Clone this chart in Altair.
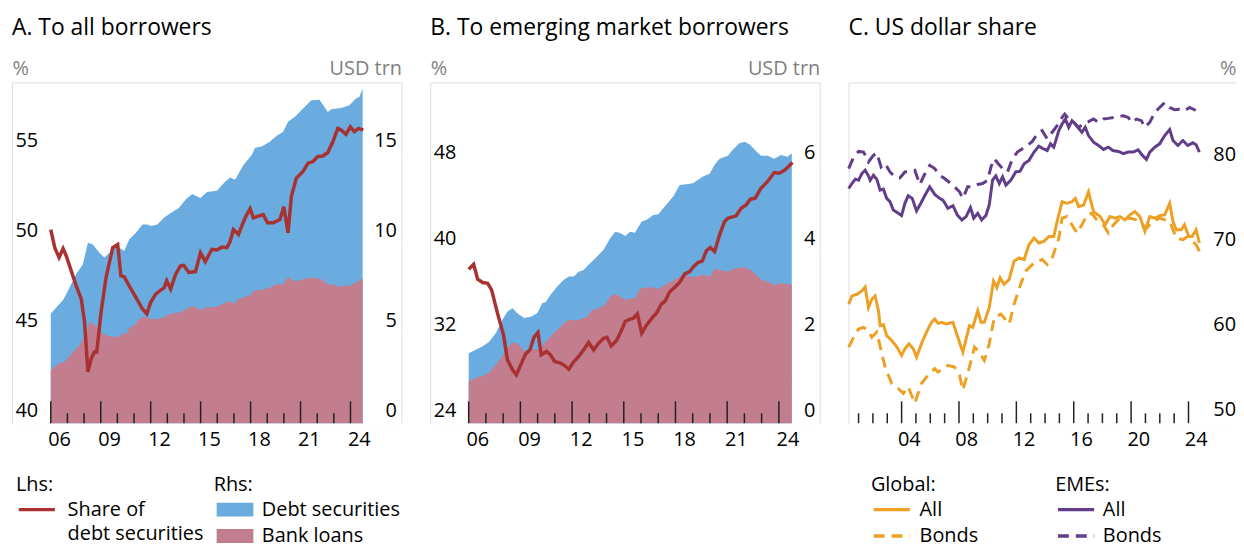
import altair as alt
import pandas as pd

FONT = "Open Sans"
BG = "#d9d9d9"
BLUE = "#6aacdf"
PINK = "#c27e8e"
RED = "#a83232"
ORANGE = "#eea024"
PURPLE = "#613d8a"
GREY = "#7f7f7f"
TICK = "#222222"

H = 343

# ---------------- Panel A: to all borrowers ----------------
a_total_year = [2006.0, 2006.34, 2006.74, 2007.03, 2007.53, 2007.93, 2008.23, 2008.52, 2008.92, 2009.22,
                2009.52, 2009.82, 2010.12, 2010.41, 2010.71, 2011.11, 2011.51, 2011.81, 2012.0, 2012.4,
                2012.8, 2013.2, 2013.69, 2014.09, 2014.49, 2014.99, 2015.38, 2015.98, 2016.48, 2016.78,
                2017.07, 2017.57, 2018.07, 2018.27, 2018.66, 2019.16, 2019.56, 2019.96, 2020.25, 2020.65,
                2021.05, 2021.65, 2022.14, 2022.64, 2022.84, 2023.44, 2023.93, 2024.33, 2024.53, 2024.73]
a_total_val = [6.08, 6.45, 6.85, 7.37, 8.29, 8.84, 10.04, 9.94, 9.48, 9.21,
               9.48, 9.85, 9.76, 9.58, 10.22, 10.59, 11.05, 11.05, 10.96, 11.05,
               11.42, 11.69, 11.97, 12.43, 12.74, 12.52, 12.85, 12.93, 13.44, 13.66,
               13.54, 14.36, 14.92, 15.32, 15.38, 15.65, 15.99, 16.21, 16.76, 17.03,
               17.40, 17.96, 17.99, 17.31, 17.46, 17.53, 17.68, 18.05, 18.14, 18.60]

a_loans_year = [2006.0, 2006.44, 2006.83, 2007.33, 2007.73, 2008.03, 2008.33, 2008.72, 2009.12, 2009.52,
                2010.02, 2010.31, 2010.51, 2010.71, 2011.01, 2011.31, 2011.61, 2012.0, 2012.4, 2012.8,
                2013.2, 2013.79, 2014.29, 2014.69, 2014.99, 2015.38, 2015.98, 2016.48, 2016.78, 2016.97,
                2017.27, 2017.67, 2017.97, 2018.27, 2018.66, 2019.16, 2019.56, 2019.96, 2020.25, 2020.55,
                2020.85, 2021.15, 2021.75, 2022.24, 2022.64, 2023.04, 2023.24, 2023.63, 2023.99, 2024.33,
                2024.73]
a_loans_val = [2.95, 3.31, 3.41, 3.96, 4.33, 4.83, 5.62, 5.43, 4.97, 4.83,
               4.79, 4.97, 4.94, 5.30, 5.43, 5.80, 5.93, 5.80, 5.80, 5.89,
               6.08, 6.17, 6.45, 6.48, 6.30, 6.45, 6.48, 6.72, 6.78, 6.63,
               6.91, 7.05, 7.13, 7.40, 7.40, 7.55, 7.73, 7.73, 8.14, 7.92,
               7.92, 8.01, 8.10, 8.01, 7.73, 7.70, 7.59, 7.64, 7.64, 7.83,
               8.05]

a_share_year = [2006.0, 2006.24, 2006.5, 2006.74, 2006.93, 2007.23, 2007.53, 2007.83, 2008.03, 2008.23,
                2008.43, 2008.62, 2008.76, 2009.02, 2009.32, 2009.72, 2010.02, 2010.21, 2010.41, 2010.71,
                2011.11, 2011.51, 2011.77, 2012.0, 2012.3, 2012.6, 2012.8, 2012.96, 2013.2, 2013.5,
                2013.79, 2013.99, 2014.29, 2014.69, 2014.99, 2015.28, 2015.68, 2015.98, 2016.28, 2016.58,
                2016.78, 2016.97, 2017.27, 2017.67, 2017.97, 2018.17, 2018.47, 2018.76, 2019.02, 2019.36,
                2019.76, 2020.0, 2020.25, 2020.45, 2020.75, 2021.15, 2021.45, 2021.75, 2022.04, 2022.34,
                2022.64, 2022.94, 2023.24, 2023.44, 2023.73, 2023.99, 2024.23, 2024.49, 2024.77]
a_share_val = [50.77, 49.76, 49.21, 49.71, 49.30, 48.47, 47.64, 46.91, 45.62, 42.85,
               43.59, 43.96, 43.96, 46.17, 48.10, 49.76, 49.94, 48.20, 48.14, 47.64,
               47.00, 46.35, 46.08, 46.72, 47.18, 47.40, 47.51, 47.92, 47.46, 48.29,
               48.75, 48.78, 48.38, 48.43, 49.48, 48.99, 49.67, 49.63, 49.80, 49.76,
               50.13, 50.77, 50.50, 51.42, 51.93, 51.42, 51.51, 51.60, 51.14, 51.14,
               51.33, 52.03, 50.59, 52.62, 53.63, 54.00, 54.46, 54.55, 54.83, 54.86,
               55.05, 55.65, 56.39, 56.30, 56.06, 56.48, 56.21, 56.39, 56.30]

# ---------------- Panel B: to emerging market borrowers ----------------
b_total_year = [2006.0, 2006.42, 2006.81, 2007.19, 2007.58, 2007.96, 2008.25, 2008.54, 2008.83, 2009.21,
                2009.6, 2009.98, 2010.27, 2010.46, 2010.75, 2011.13, 2011.52, 2011.81, 2012.1, 2012.38,
                2012.67, 2013.06, 2013.44, 2013.83, 2014.21, 2014.5, 2014.79, 2015.08, 2015.37, 2015.65,
                2016.04, 2016.33, 2016.71, 2017.0, 2017.38, 2017.87, 2018.25, 2018.63, 2019.02, 2019.31,
                2019.6, 2019.98, 2020.27, 2020.56, 2021.04, 2021.33, 2021.71, 2022.0, 2022.29, 2022.67,
                2022.96, 2023.35, 2023.73, 2024.12, 2024.5, 2024.75]
b_total_val = [1.63, 1.71, 1.79, 1.90, 2.10, 2.41, 2.60, 2.68, 2.56, 2.45,
               2.48, 2.56, 2.80, 2.82, 2.99, 3.18, 3.34, 3.42, 3.42, 3.53,
               3.57, 3.73, 3.88, 4.04, 4.31, 4.46, 4.43, 4.36, 4.46, 4.44,
               4.70, 4.74, 4.85, 4.87, 5.05, 5.28, 5.55, 5.57, 5.59, 5.67,
               5.75, 5.81, 6.02, 6.16, 6.23, 6.37, 6.52, 6.56, 6.50, 6.34,
               6.23, 6.23, 6.16, 6.25, 6.21, 6.29]

b_loans_year = [2006.0, 2006.42, 2006.81, 2007.19, 2007.58, 2007.96, 2008.25, 2008.54, 2008.83, 2009.12,
                2009.4, 2009.79, 2010.17, 2010.46, 2010.75, 2011.13, 2011.52, 2011.81, 2012.19, 2012.48,
                2012.87, 2013.15, 2013.54, 2013.92, 2014.21, 2014.5, 2014.79, 2015.08, 2015.37, 2015.65,
                2015.94, 2016.33, 2016.71, 2017.0, 2017.38, 2017.77, 2018.15, 2018.44, 2018.83, 2019.21,
                2019.6, 2019.98, 2020.27, 2020.56, 2020.94, 2021.23, 2021.62, 2022.0, 2022.38, 2022.67,
                2022.96, 2023.35, 2023.73, 2024.02, 2024.4, 2024.75]
b_loans_val = [0.97, 1.05, 1.10, 1.18, 1.36, 1.57, 1.76, 1.88, 1.86, 1.72,
               1.67, 1.71, 1.75, 1.90, 2.02, 2.17, 2.33, 2.41, 2.39, 2.42,
               2.48, 2.64, 2.68, 2.76, 2.95, 3.01, 2.95, 2.87, 2.91, 2.91,
               3.14, 3.16, 3.17, 3.12, 3.22, 3.30, 3.39, 3.46, 3.42, 3.42,
               3.46, 3.42, 3.59, 3.57, 3.53, 3.57, 3.63, 3.63, 3.57, 3.47,
               3.34, 3.30, 3.22, 3.26, 3.25, 3.22]

b_share_year = [2006.0, 2006.29, 2006.52, 2006.81, 2007.1, 2007.33, 2007.67, 2008.02, 2008.25, 2008.54,
                2008.77, 2009.02, 2009.31, 2009.56, 2009.79, 2010.02, 2010.21, 2010.52, 2010.75, 2010.98,
                2011.33, 2011.52, 2011.81, 2012.1, 2012.38, 2012.67, 2012.96, 2013.25, 2013.54, 2013.83,
                2014.02, 2014.27, 2014.6, 2014.88, 2015.08, 2015.37, 2015.56, 2015.79, 2016.04, 2016.33,
                2016.71, 2016.9, 2017.19, 2017.38, 2017.67, 2017.96, 2018.25, 2018.54, 2018.83, 2019.02,
                2019.31, 2019.56, 2019.79, 2020.02, 2020.27, 2020.56, 2020.85, 2021.04, 2021.52, 2021.81,
                2022.1, 2022.35, 2022.63, 2022.96, 2023.35, 2023.73, 2024.02, 2024.31, 2024.56, 2024.79]
b_share_val = [38.35, 38.81, 37.42, 37.11, 37.04, 36.42, 34.25, 32.23, 29.90, 28.97,
               28.50, 29.43, 30.46, 30.83, 32.01, 32.45, 30.37, 30.68, 30.37, 29.75,
               29.59, 29.43, 29.03, 29.75, 30.21, 30.83, 31.52, 30.83, 31.45, 31.92,
               32.01, 31.20, 31.76, 32.70, 33.47, 33.69, 33.78, 34.19, 32.39, 33.16,
               33.94, 34.25, 35.12, 35.34, 36.24, 36.67, 37.14, 37.91, 38.13, 38.53,
               38.97, 39.12, 40.06, 40.37, 39.99, 41.55, 42.79, 43.10, 43.32, 44.03,
               44.34, 44.87, 44.96, 45.89, 46.52, 47.35, 47.29, 47.54, 47.91, 48.29]

# ---------------- Panel C: US dollar share ----------------
c_eme_all_year = [2000.31, 2000.54, 2000.77, 2001.0, 2001.23, 2001.46, 2001.69, 2001.81, 2002.04, 2002.27,
                  2002.5, 2002.73, 2002.96, 2003.19, 2003.42, 2003.77, 2004.0, 2004.23, 2004.46, 2004.74,
                  2005.04, 2005.34, 2005.61, 2005.96, 2006.31, 2006.65, 2006.88, 2007.23, 2007.58, 2007.88,
                  2008.2, 2008.5, 2008.8, 2009.03, 2009.31, 2009.58, 2009.88, 2010.11, 2010.34, 2010.57,
                  2010.81, 2011.04, 2011.27, 2011.61, 2011.96, 2012.26, 2012.54, 2012.88, 2013.23, 2013.57,
                  2013.87, 2014.15, 2014.38, 2014.61, 2014.96, 2015.19, 2015.42, 2015.65, 2015.88, 2016.11,
                  2016.34, 2016.57, 2016.8, 2017.03, 2017.38, 2017.73, 2018.07, 2018.42, 2018.72, 2019.11,
                  2019.46, 2019.8, 2020.15, 2020.49, 2020.79, 2021.07, 2021.3, 2021.65, 2021.99, 2022.34,
                  2022.69, 2022.92, 2023.26, 2023.61, 2023.95, 2024.3, 2024.53, 2024.76]
c_eme_all_val = [77.55, 78.13, 78.64, 78.52, 79.30, 79.69, 79.03, 78.52, 79.10, 78.64,
                 77.36, 77.47, 76.39, 76.00, 75.03, 74.64, 74.37, 75.81, 76.70, 76.39,
                 74.91, 75.81, 76.70, 77.75, 76.85, 76.39, 76.19, 75.22, 75.53, 74.45,
                 73.86, 74.25, 75.30, 74.06, 74.64, 73.86, 74.37, 75.61, 78.52, 79.03,
                 78.13, 78.91, 77.94, 78.52, 79.49, 79.57, 80.46, 80.85, 81.82, 82.52,
                 82.21, 82.01, 82.79, 82.40, 84.34, 85.12, 85.70, 84.73, 85.51, 85.12,
                 84.61, 84.15, 84.73, 83.76, 82.98, 82.60, 82.13, 82.40, 82.01, 81.90,
                 81.63, 81.82, 81.82, 82.09, 81.43, 80.97, 81.82, 82.40, 82.79, 83.76,
                 84.46, 83.18, 82.60, 83.18, 82.60, 82.91, 82.67, 81.82]

c_eme_bonds_year = [2000.31, 2000.66, 2001.0, 2001.35, 2001.69, 2002.04, 2002.27, 2002.57, 2002.85, 2003.19,
                    2003.54, 2003.88, 2004.23, 2004.58, 2004.92, 2005.27, 2005.57, 2005.96, 2006.31, 2006.65,
                    2007.0, 2007.34, 2007.69, 2008.04, 2008.27, 2008.61, 2008.96, 2009.31, 2009.65, 2010.0,
                    2010.23, 2010.46, 2010.74, 2011.04, 2011.38, 2011.73, 2012.07, 2012.42, 2012.77, 2013.11,
                    2013.46, 2013.8, 2014.15, 2014.5, 2014.84, 2015.19, 2015.37, 2015.65, 2016.0, 2016.34,
                    2016.69, 2017.03, 2017.38, 2017.73, 2018.07, 2018.42, 2018.76, 2019.11, 2019.46, 2019.8,
                    2020.03, 2020.38, 2020.72, 2020.95, 2021.3, 2021.65, 2021.99, 2022.34, 2022.69, 2023.03,
                    2023.38, 2023.72, 2024.07, 2024.42, 2024.76]
c_eme_bonds_val = [79.88, 81.24, 81.90, 81.82, 80.66, 81.43, 81.74, 80.07, 80.46, 79.49,
                   78.91, 78.79, 79.49, 79.57, 79.69, 78.02, 79.10, 80.27, 79.88, 79.10,
                   78.72, 78.25, 77.75, 77.16, 76.39, 77.75, 77.75, 78.02, 78.13, 78.52,
                   80.07, 81.04, 80.46, 79.88, 79.49, 81.04, 81.82, 82.21, 82.60, 83.06,
                   83.95, 84.34, 83.37, 84.15, 84.92, 85.89, 86.28, 85.70, 85.31, 84.73,
                   85.12, 85.39, 85.70, 85.31, 85.70, 85.78, 85.89, 86.01, 86.09, 85.89,
                   85.31, 85.70, 85.51, 84.73, 85.31, 86.48, 87.06, 87.64, 87.06, 86.79,
                   86.86, 86.67, 87.06, 86.79, 86.48]

c_glob_all_year = [2000.31, 2000.54, 2000.89, 2001.23, 2001.46, 2001.69, 2001.92, 2002.15, 2002.39, 2002.5,
                   2002.73, 2002.96, 2003.31, 2003.65, 2004.0, 2004.23, 2004.51, 2004.81, 2005.04, 2005.38,
                   2005.73, 2006.08, 2006.31, 2006.54, 2006.77, 2007.11, 2007.58, 2007.92, 2008.27, 2008.5,
                   2008.73, 2008.96, 2009.31, 2009.54, 2009.77, 2010.11, 2010.41, 2010.64, 2010.87, 2011.15,
                   2011.5, 2011.84, 2012.19, 2012.54, 2012.88, 2013.23, 2013.57, 2013.92, 2014.27, 2014.61,
                   2014.84, 2015.19, 2015.53, 2015.88, 2016.11, 2016.34, 2016.69, 2017.03, 2017.38, 2017.84,
                   2018.19, 2018.53, 2018.88, 2019.22, 2019.57, 2019.92, 2020.26, 2020.61, 2020.96, 2021.3,
                   2021.65, 2021.99, 2022.34, 2022.69, 2022.92, 2023.15, 2023.49, 2023.72, 2024.02, 2024.25,
                   2024.53, 2024.76]
c_glob_all_val = [63.97, 64.94, 65.13, 65.52, 65.99, 63.59, 64.55, 64.94, 63.19, 61.45,
                  61.56, 60.28, 59.70, 59.00, 57.96, 58.73, 59.31, 58.73, 57.76, 59.31,
                  60.67, 61.84, 62.22, 61.72, 61.84, 61.64, 61.84, 60.09, 58.34, 59.90,
                  61.45, 61.25, 63.19, 61.84, 61.84, 63.58, 66.69, 65.91, 67.07, 66.30,
                  66.88, 69.01, 69.40, 69.21, 70.95, 71.73, 71.15, 71.34, 71.92, 71.92,
                  73.67, 76.00, 75.81, 76.00, 76.39, 75.42, 75.61, 77.16, 74.84, 74.25,
                  73.28, 74.25, 74.06, 74.25, 73.86, 74.45, 74.84, 74.25, 72.51, 74.25,
                  74.06, 74.37, 74.45, 75.81, 73.67, 72.70, 72.70, 73.28, 71.92, 71.92,
                  72.70, 71.15]

c_glob_bonds_year = [2000.31, 2000.66, 2001.0, 2001.35, 2001.69, 2001.92, 2002.27, 2002.57, 2002.85, 2003.31,
                     2003.77, 2004.12, 2004.46, 2004.92, 2005.38, 2005.84, 2006.31, 2006.54, 2007.23, 2007.69,
                     2008.04, 2008.27, 2008.73, 2009.08, 2009.31, 2009.77, 2010.11, 2010.46, 2010.92, 2011.5,
                     2011.84, 2012.3, 2012.65, 2013.23, 2013.8, 2014.15, 2014.5, 2014.96, 2015.19, 2015.53,
                     2016.23, 2016.57, 2016.92, 2017.26, 2017.61, 2018.07, 2018.42, 2018.76, 2019.22, 2019.92,
                     2020.38, 2021.07, 2021.53, 2021.99, 2022.34, 2022.69, 2023.15, 2023.61, 2023.95, 2024.53,
                     2024.76]
c_glob_bonds_val = [58.93, 60.09, 61.06, 61.25, 60.87, 60.09, 60.67, 58.54, 56.60, 54.66,
                    54.07, 53.49, 54.27, 52.33, 54.66, 55.63, 56.40, 56.01, 56.79, 56.60,
                    55.63, 53.88, 56.60, 58.93, 58.54, 57.37, 59.31, 62.42, 62.81, 61.64,
                    63.97, 66.30, 67.85, 68.82, 69.21, 68.63, 69.40, 71.73, 74.06, 74.25,
                    72.31, 73.28, 74.45, 74.64, 73.86, 73.28, 72.31, 73.28, 74.06, 74.06,
                    73.86, 72.90, 73.67, 74.06, 73.86, 73.67, 71.73, 71.54, 71.92, 70.95,
                    70.18]

# axis ticks / labels
ab_major_years = [2006, 2009, 2012, 2015, 2018, 2021, 2024]
ab_minor_years = [y for y in range(2006, 2025) if y not in ab_major_years]
c_major_years = [2004, 2008, 2012, 2016, 2020, 2024]
c_minor_years = [y for y in range(2001, 2025) if y not in c_major_years]

a_lhs_ticks = [40, 45, 50, 55]
a_rhs_ticks = [0, 5, 10, 15]
b_lhs_ticks = [24, 32, 40, 48]
b_rhs_ticks = [0, 2, 4, 6]
c_ticks = [50, 60, 70, 80]

# legend texts
share_label = ["Share of", "debt securities"]
fill_labels = ["Debt securities", "Bank loans"]

LBL = 20
WA, WB, WC = 392, 392, 393
SPACING = 29
RECT = "M-2.64,-1L2.64,-1L2.64,1L-2.64,1Z"
SEG = "M-2.6,0L2.6,0"
LEG_Y = 395


def df(xs, ys, **extra):
    d = pd.DataFrame({"x": xs, "v": ys})
    for k, val in extra.items():
        d[k] = val
    return d


def xenc(domain, values, offset):
    return alt.X("x:Q", scale=alt.Scale(domain=domain, nice=False, zero=False),
                 axis=alt.Axis(values=values, grid=True, gridColor="white", gridWidth=1.5,
                               ticks=False, domain=False,
                               labelExpr="format(datum.value % 100, '02d')",
                               labelOffset=offset, labelPadding=6, labelFontSize=LBL,
                               labelColor="black", labelFlush=False, labelOverlap=False,
                               labelBound=False, title=None))


def yaxis(values, orient, title, grid, title_x=0, labels=True):
    return alt.Axis(values=values, orient=orient, grid=grid, gridColor="white", gridWidth=1.5,
                    ticks=False, domain=False, labels=labels, labelFontSize=LBL, labelColor="black",
                    labelAlign="left" if orient == "left" else "right",
                    labelPadding=-3 if orient == "left" else -5,
                    labelBaseline="alphabetic", labelOffset=-7, labelFlush=False,
                    title=title, titleAngle=0, titleAlign="left" if orient == "left" else "right",
                    titleBaseline="alphabetic", titleX=title_x, titleY=-8, titleColor=GREY,
                    titleFontSize=LBL, titleFontWeight="normal", titlePadding=0)


def tick_layers(xe, major, minor):
    mj = alt.Chart(pd.DataFrame({"x": major})).mark_rule(color=TICK, strokeWidth=1.5).encode(
        x=xe, y=alt.value(H), y2=alt.value(H - 22))
    mn = alt.Chart(pd.DataFrame({"x": minor})).mark_rule(color=TICK, strokeWidth=1.5).encode(
        x=xe, y=alt.value(H), y2=alt.value(H - 10))
    return [mj, mn]


def title_params(text):
    return alt.TitleParams(text, anchor="start", frame="group", fontSize=23, fontWeight="normal",
                           color="black", font=FONT, offset=19)


def bank_panel(domain_x, lhs_dom, rhs_dom, lhs_ticks, rhs_ticks, tot, loans, share, width, with_legend):
    xe = xenc(domain_x, ab_major_years, width / (domain_x[1] - domain_x[0]) / 2)
    yr = alt.Y("v:Q", scale=alt.Scale(domain=rhs_dom, nice=False, zero=False),
               axis=yaxis(rhs_ticks, "right", "USD trn", False))
    yl = alt.Y("v:Q", scale=alt.Scale(domain=lhs_dom, nice=False, zero=False),
               axis=yaxis(lhs_ticks, "left", "%", True))
    fill_scale = alt.Scale(domain=fill_labels, range=[BLUE, PINK])
    if with_legend:
        fill_legend = alt.Legend(title="Rhs:", orient="none", legendX=203, legendY=LEG_Y,
                                 symbolType=RECT, symbolSize=196, symbolOffset=11.5,
                                 symbolStrokeWidth=0, symbolOpacity=1, labelOffset=17, rowPadding=6.5,
                                 titlePadding=5)
        stroke_legend = alt.Legend(title="Lhs:", orient="none", legendX=4, legendY=LEG_Y,
                                   symbolType=SEG, symbolSize=196, symbolOffset=11,
                                   symbolStrokeWidth=3.5, labelOffset=21, titlePadding=5, rowPadding=4.5)
    else:
        fill_legend = None
        stroke_legend = None
    fill_total = alt.Fill("s:N", scale=fill_scale, legend=fill_legend)
    fill_loans = alt.Fill("s:N", scale=fill_scale, legend=fill_legend)
    area_tot = alt.Chart(df(*tot, s=fill_labels[0])).mark_area(opacity=1).encode(
        x=xe, y=yr, fill=fill_total)
    area_loans = alt.Chart(df(*loans, s=fill_labels[1])).mark_area(opacity=1).encode(
        x=xe, y=yr, fill=fill_loans)
    areas = alt.layer(area_tot, area_loans)
    line = alt.Chart(df(*share, s=share_label[0])).mark_line(strokeWidth=3.5).encode(
        x=xe, y=yl,
        stroke=alt.Stroke("s:N", scale=alt.Scale(domain=share_label, range=[RED, "rgba(0,0,0,0)"]),
                          legend=stroke_legend))
    return alt.layer(areas, *tick_layers(xe, ab_major_years, ab_minor_years), line).resolve_scale(
        y="independent")


panel_a = bank_panel([2003.67, 2027.06], [40, 58.95], [0, 18.95], a_lhs_ticks, a_rhs_ticks,
                     (a_total_year, a_total_val), (a_loans_year, a_loans_val),
                     (a_share_year, a_share_val), WA, True).properties(
    width=WA, height=H, title=title_params("A. To all borrowers"))

panel_b = bank_panel([2003.77, 2026.37], [24, 55.75], [0, 7.94], b_lhs_ticks, b_rhs_ticks,
                     (b_total_year, b_total_val), (b_loans_year, b_loans_val),
                     (b_share_year, b_share_val), WB, False).properties(
    width=WB, height=H, title=title_params("B. To emerging market borrowers"))

# Panel C
c_dom = [2000.3, 2027.52]
xc = xenc(c_dom, c_major_years, WC / (c_dom[1] - c_dom[0]) / 2)
yc = alt.Y("v:Q", scale=alt.Scale(domain=[50, 90], nice=False, zero=False),
           axis=yaxis(c_ticks, "right", "%", True, title_x=-3, labels=False))
DASHES = [[100, 0], [11, 7]]

glob_df = pd.concat([df(c_glob_all_year, c_glob_all_val, global_type="All"),
                     df(c_glob_bonds_year, c_glob_bonds_val, global_type="Bonds")])
eme_df = pd.concat([df(c_eme_all_year, c_eme_all_val, eme_type="All"),
                    df(c_eme_bonds_year, c_eme_bonds_val, eme_type="Bonds")])


def c_legend(title, x, color, label_offset):
    return alt.Legend(title=title, orient="none", legendX=x, legendY=LEG_Y,
                      symbolType=SEG, symbolSize=196, symbolOffset=11, symbolStrokeWidth=3.5,
                      symbolStrokeColor=color, labelOffset=label_offset, rowPadding=6.5, titlePadding=5)


eme_lines = alt.Chart(eme_df).mark_line(strokeWidth=3, color=PURPLE).encode(
    x=xc, y=yc,
    strokeDash=alt.StrokeDash("eme_type:N", scale=alt.Scale(range=DASHES),
                              legend=c_legend("EMEs:", 208, PURPLE, 17)))
glob_lines = alt.Chart(glob_df).mark_line(strokeWidth=3, color=ORANGE).encode(
    x=xc, y=yc,
    strokeDash=alt.StrokeDash("global_type:N", scale=alt.Scale(range=DASHES),
                              legend=c_legend("Global:", 22.5, ORANGE, 18)))
c_labels = alt.Chart(pd.DataFrame({"v": c_ticks})).mark_text(
    align="right", baseline="alphabetic", dy=-7, fontSize=LBL, font=FONT, color="black").encode(
    y=yc, x=alt.value(WC - 3), text=alt.Text("v:Q"))

panel_c = alt.layer(eme_lines, glob_lines, *tick_layers(xc, c_major_years, c_minor_years),
                    c_labels).resolve_scale(strokeDash="independent").properties(
    width=WC, height=H, title=title_params("C. US dollar share"))

PAD_L, PAD_T = 4, 72
SVG_W, SVG_H = 1236, 545

chart = alt.hconcat(panel_a, panel_b, panel_c, spacing=SPACING, bounds="flush").resolve_scale(
    x="independent", y="independent", color="independent", stroke="independent",
    fill="independent", strokeDash="independent").properties(
    autosize=alt.AutoSizeParams(type="none"),
    padding={"left": PAD_L, "top": PAD_T, "right": SVG_W - PAD_L, "bottom": SVG_H - PAD_T}
).configure_view(fill=BG, stroke=None).configure(font=FONT).configure_legend(
    titleFontSize=LBL, titleFontWeight="normal", titleColor="black", labelFontSize=LBL,
    labelColor="black", labelLimit=300, titleAnchor="start", padding=0
).configure_axis(labelFont=FONT, titleFont=FONT)

chart.save("out.html", embed_options={"renderer": "svg", "actions": False})
